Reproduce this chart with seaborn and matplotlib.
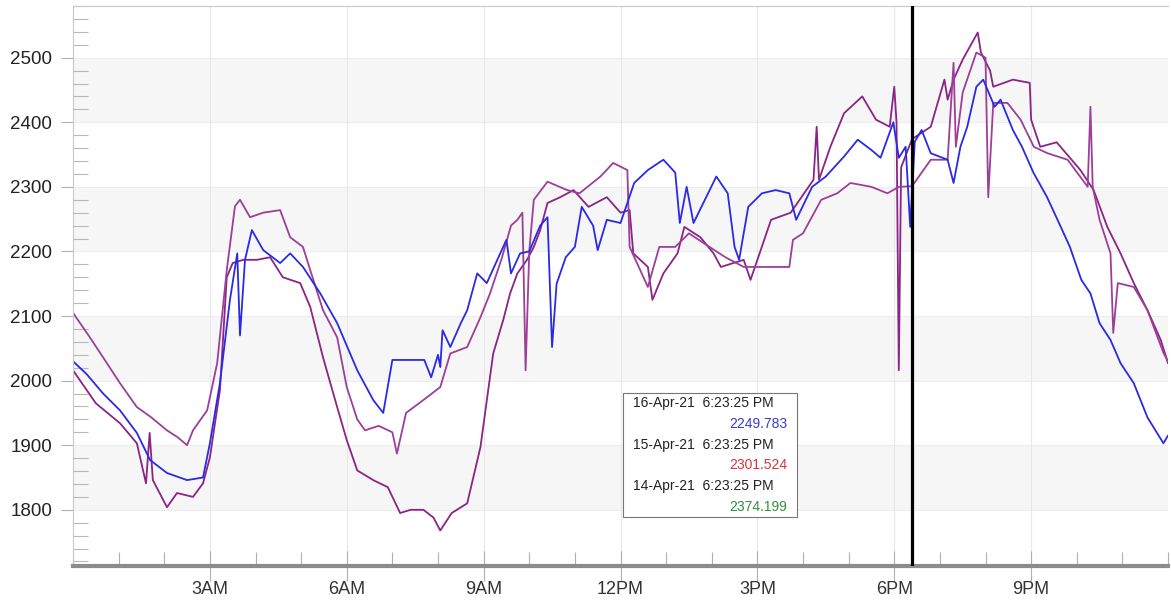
import pandas as pd
import matplotlib
matplotlib.use("Agg")
import matplotlib.pyplot as plt
from matplotlib.ticker import MultipleLocator, FixedLocator
import seaborn as sns

# 16-Apr-21 (blue)
hours_16 = [0.0, 0.3, 0.66, 1.03, 1.4, 1.69, 2.06, 2.5, 2.85, 3.0, 3.22, 3.44, 3.6, 3.66, 3.77,
            3.92, 4.17, 4.54, 4.76, 5.04, 5.42, 5.79, 6.23, 6.58, 6.8, 7.0, 7.3, 7.7, 7.85, 8.0,
            8.05, 8.1, 8.27, 8.5, 8.64, 8.86, 9.07, 9.3, 9.5, 9.6, 9.8, 10.0, 10.24, 10.4, 10.5,
            10.6, 10.8, 11.0, 11.15, 11.4, 11.5, 11.7, 12.0, 12.3, 12.6, 12.94, 13.2, 13.3, 13.45,
            13.6, 14.1, 14.35, 14.5, 14.6, 14.8, 15.1, 15.4, 15.7, 15.85, 16.2, 16.5, 16.9, 17.2,
            17.5, 17.7, 17.98, 18.1, 18.25, 18.35, 18.45, 18.6, 18.8, 19.17, 19.3, 19.45, 19.6,
            19.8, 19.95, 20.2, 20.33, 20.6, 20.8, 21.05, 21.35, 21.65, 21.85, 22.1, 22.3, 22.5,
            22.74, 22.96, 23.25, 23.55, 23.9, 24.0]
values_16 = [2030, 2010, 1980, 1954, 1919, 1877, 1857, 1846, 1850, 1903, 1996, 2125, 2197, 2070, 2187,
             2233, 2202, 2182, 2197, 2176, 2135, 2089, 2016, 1970, 1950, 2032, 2032, 2032, 2005, 2040,
             2021, 2078, 2052, 2089, 2109, 2166, 2151, 2187, 2218, 2166, 2197, 2200, 2240, 2253, 2052,
             2150, 2191, 2207, 2269, 2240, 2202, 2249, 2244, 2306, 2326, 2342, 2322, 2244, 2300,
             2244, 2316, 2290, 2207, 2187, 2269, 2290, 2295, 2290, 2249, 2300, 2316, 2347, 2373,
             2357, 2345, 2400, 2345, 2362, 2238, 2370, 2388, 2352, 2342, 2306, 2362, 2393,
             2455, 2466, 2424, 2435, 2388, 2362, 2322, 2284, 2238, 2207, 2156, 2135, 2089,
             2063, 2027, 1996, 1943, 1903, 1915]

# 15-Apr-21 (purple)
hours_15 = [0.0, 0.37, 0.66, 1.03, 1.4, 1.7, 2.06, 2.3, 2.5, 2.63, 2.94, 3.16, 3.37, 3.55, 3.66,
            3.88, 4.17, 4.54, 4.76, 5.04, 5.2, 5.48, 5.79, 6.0, 6.23, 6.4, 6.7, 7.0, 7.1, 7.3,
            7.68, 8.05, 8.27, 8.64, 8.93, 9.14, 9.4, 9.6, 9.74, 9.85, 9.92, 10.0, 10.1, 10.4,
            10.83, 11.1, 11.56, 11.84, 12.15, 12.2, 12.6, 12.85, 13.2, 13.5, 13.95, 14.3, 14.7,
            15.0, 15.4, 15.7, 15.78, 16.0, 16.16, 16.4, 16.75, 17.04, 17.5, 17.85, 18.1, 18.39,
            18.8, 19.17, 19.3, 19.35, 19.5, 19.8, 20.0, 20.06, 20.17, 20.48, 20.77, 21.06, 21.36,
            21.8, 22.24, 22.3, 22.35, 22.5, 22.74, 22.8, 22.9, 23.25, 23.55, 23.9, 24.0]
values_15 = [2105, 2067, 2036, 1996, 1959, 1944, 1923, 1912, 1900, 1923, 1954, 2027, 2171, 2270, 2280,
             2253, 2260, 2264, 2222, 2207, 2171, 2109, 2067, 1990, 1940, 1923, 1930, 1920, 1887, 1950,
             1970, 1990, 2042, 2052, 2098, 2135, 2190, 2240, 2249, 2260, 2016, 2200, 2280, 2308,
             2295, 2290, 2316, 2337, 2326, 2207, 2145, 2207, 2207, 2228, 2207, 2191, 2176,
             2176, 2176, 2176, 2218, 2228, 2249, 2280, 2290, 2306, 2300, 2290, 2300, 2301,
             2342, 2342, 2492, 2362, 2446, 2508, 2500, 2284, 2430, 2430, 2404, 2362, 2352,
             2342, 2300, 2424, 2300, 2249, 2197, 2074, 2151, 2145, 2109, 2043, 2030]

# 14-Apr-21 (purple)
hours_14 = [0.0, 0.5, 1.03, 1.4, 1.6, 1.68, 1.75, 2.06, 2.28, 2.63, 2.85, 3.0, 3.22, 3.37, 3.5,
            3.73, 4.03, 4.32, 4.6, 4.98, 5.2, 5.48, 5.79, 6.0, 6.23, 6.58, 6.9, 7.17, 7.4, 7.68,
            7.9, 8.05, 8.3, 8.64, 8.93, 9.21, 9.43, 9.58, 9.74, 9.95, 10.1, 10.24, 10.4, 10.68,
            10.97, 11.3, 11.7, 12.0, 12.2, 12.28, 12.6, 12.7, 12.94, 13.25, 13.4, 13.75, 14.04,
            14.2, 14.7, 14.85, 15.3, 15.73, 16.23, 16.3, 16.35, 16.6, 16.9, 17.3, 17.6, 17.9,
            18.0, 18.05, 18.1, 18.15, 18.39, 18.8, 19.1, 19.17, 19.3, 19.5, 19.83, 19.9, 20.1,
            20.17, 20.6, 20.97, 21.0, 21.2, 21.56, 22.08, 22.37, 22.67, 22.96, 23.25, 23.55,
            23.84, 24.0]
values_14 = [2016, 1965, 1934, 1903, 1841, 1919, 1846, 1804, 1826, 1820, 1841, 1881, 1985, 2160, 2182,
             2187, 2187, 2191, 2160, 2151, 2114, 2036, 1959, 1908, 1861, 1846, 1835, 1795, 1800, 1800,
             1788, 1768, 1795, 1810, 1897, 2042, 2094, 2135, 2166, 2187, 2207, 2233, 2275, 2284,
             2295, 2269, 2284, 2260, 2264, 2197, 2176, 2125, 2166, 2197, 2238, 2222, 2197,
             2176, 2187, 2156, 2249, 2260, 2311, 2393, 2311, 2362, 2414, 2440, 2404, 2393,
             2455, 2400, 2016, 2330, 2374, 2393, 2466, 2435, 2466, 2497, 2539, 2508, 2480,
             2455, 2466, 2461, 2404, 2362, 2369, 2326, 2295, 2238, 2197, 2151, 2109,
             2063, 2027]

tick_hours = [3, 6, 9, 12, 15, 18, 21]
tick_labels = ["3AM", "6AM", "9AM", "12PM", "3PM", "6PM", "9PM"]

cursor_hour = 18.39
cursor_lines = [("16-Apr-21  6:23:25 PM", "2249.783", "#3a3ad0"),
                ("15-Apr-21  6:23:25 PM", "2301.524", "#d8343c"),
                ("14-Apr-21  6:23:25 PM", "2374.199", "#2f8f3a")]

df = pd.concat([
    pd.DataFrame({"hour": hours_14, "value": values_14, "day": "14-Apr-21"}),
    pd.DataFrame({"hour": hours_15, "value": values_15, "day": "15-Apr-21"}),
    pd.DataFrame({"hour": hours_16, "value": values_16, "day": "16-Apr-21"}),
])
palette = {"14-Apr-21": "#8a2486", "15-Apr-21": "#9c3f98", "16-Apr-21": "#2a2ae6"}

sns.set_style("white")
plt.rcParams["font.family"] = ["Liberation Sans", "DejaVu Sans"]

fig = plt.figure(figsize=(11.71, 6.02), dpi=100)
ax = fig.add_axes([73 / 1171, 36 / 602, 1095 / 1171, 560 / 602])

# alternating horizontal bands
for lo in [1800, 2000, 2200, 2400]:
    ax.axhspan(lo, lo + 100, color="#f6f6f6", zorder=0, lw=0)
for y in range(1800, 2600, 100):
    ax.axhline(y, color="#ededed", lw=0.8, zorder=0.5)
for h in tick_hours:
    ax.axvline(h, color="#e8e8e8", lw=0.8, zorder=0.5)

sns.lineplot(data=df, x="hour", y="value", hue="day", palette=palette, sort=False,
             estimator=None, lw=1.3, legend=False, ax=ax, zorder=2)

ax.axvline(cursor_hour, color="black", lw=2.3, zorder=3)

ax.set_xlim(0, 24)
ax.set_ylim(1713, 2580)
ax.set_xlabel("")
ax.set_ylabel("")

ax.xaxis.set_major_locator(FixedLocator(tick_hours))
ax.set_xticklabels(tick_labels)
ax.xaxis.set_minor_locator(MultipleLocator(1))
ax.yaxis.set_major_locator(MultipleLocator(100))
ax.yaxis.set_minor_locator(MultipleLocator(20))

ax.tick_params(axis="x", which="major", direction="inout", length=22, width=0.8,
               color="#b0b0b0", labelsize=13, labelcolor="#333333", pad=0)
ax.tick_params(axis="x", which="minor", direction="in", length=10, width=0.8, color="#b0b0b0")
ax.tick_params(axis="y", which="major", direction="out", length=9, width=0.8,
               color="#b0b0b0", labelsize=13.5, labelcolor="#222222", pad=6)
ax.tick_params(axis="y", which="minor", direction="in", length=11, width=0.8, color="#b8b8b8")
ax.tick_params(bottom=True, left=True, which="both")

for side in ["top", "left"]:
    ax.spines[side].set_color("#c8c8c8")
    ax.spines[side].set_linewidth(0.8)
ax.spines["right"].set_visible(False)
ax.spines["bottom"].set_color("#8c8c8c")
ax.spines["bottom"].set_linewidth(3)

# cursor readout box
box = plt.Rectangle((623 / 1171, 1 - 517 / 602), 174 / 1171, 124 / 602, transform=fig.transFigure,
                    facecolor="white", edgecolor="#777777", lw=0.8, zorder=5)
fig.patches.append(box)
y0 = 1 - 403 / 602
step = 20.8 / 602
for i, (stamp, val, col) in enumerate(cursor_lines):
    fig.text(633 / 1171, y0 - 2 * i * step, stamp, fontsize=10, color="#222222",
             va="center", ha="left", zorder=6)
    fig.text(787 / 1171, y0 - (2 * i + 1) * step, val, fontsize=10, color=col,
             va="center", ha="right", zorder=6)

fig.savefig("out.png", dpi=100)
